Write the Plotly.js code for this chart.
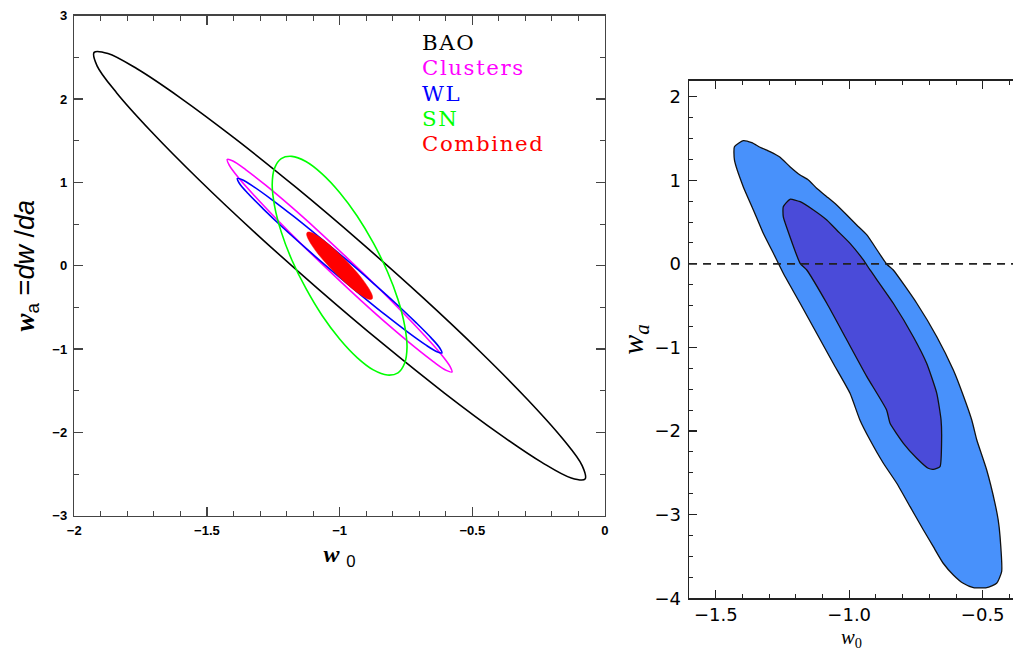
<!DOCTYPE html>
<html><head><meta charset="utf-8">
<script src="https://cdn.plot.ly/plotly-3.0.1.min.js"></script>
<style>html,body{margin:0;padding:0;background:#fff}#chart{width:1013px;height:652px}</style>
</head><body><div id="chart"></div>
<script>
// ---- Left panel: Fisher-forecast ellipses (w0, wa) ----
const baoW0 = [-0.075,-0.086,-0.160,-0.291,-0.470,-0.685,-0.922,-1.164,-1.395,-1.599,-1.762,-1.873,-1.925,-1.914,-1.840,-1.709,-1.530,-1.315,-1.078,-0.836,-0.605,-0.401,-0.238,-0.127,-0.075];
const baoWa = [-2.56,-2.399,-2.074,-1.608,-1.032,-0.386,0.286,0.939,1.528,2.012,2.36,2.547,2.56,2.399,2.074,1.608,1.032,0.386,-0.286,-0.939,-1.528,-2.012,-2.36,-2.547,-2.56];
const clustersW0 = [-0.5765,-0.584,-0.619,-0.681,-0.764,-0.863,-0.972,-1.082,-1.187,-1.280,-1.353,-1.402,-1.4235,-1.416,-1.381,-1.319,-1.236,-1.137,-1.028,-0.918,-0.813,-0.720,-0.647,-0.598,-0.5765];
const clustersWa = [-1.2745,-1.207,-1.056,-0.834,-0.555,-0.238,0.095,0.422,0.720,0.969,1.151,1.256,1.2745,1.207,1.056,0.834,0.555,0.238,-0.095,-0.422,-0.720,-0.969,-1.151,-1.256,-1.2745];
const wlW0 = [-0.6145,-0.622,-0.655,-0.712,-0.788,-0.879,-0.978,-1.079,-1.174,-1.257,-1.323,-1.367,-1.3855,-1.378,-1.345,-1.288,-1.212,-1.121,-1.022,-0.921,-0.826,-0.743,-0.677,-0.633,-0.6145];
const wlWa = [-1.0465,-0.990,-0.866,-0.683,-0.453,-0.193,0.081,0.349,0.594,0.797,0.947,1.032,1.0465,0.990,0.866,0.683,0.453,0.193,-0.081,-0.349,-0.594,-0.797,-0.947,-1.032,-1.0465];
const snW0 = [-0.746,-0.755,-0.780,-0.820,-0.873,-0.934,-1.0,-1.066,-1.127,-1.180,-1.220,-1.245,-1.254,-1.245,-1.220,-1.180,-1.127,-1.066,-1.0,-0.934,-0.873,-0.820,-0.780,-0.755,-0.746];
const snWa = [-0.976,-0.716,-0.406,-0.069,0.273,0.597,0.879,1.102,1.250,1.312,1.285,1.171,0.976,0.716,0.406,0.069,-0.273,-0.597,-0.879,-1.102,-1.250,-1.312,-1.285,-1.171,-0.976];
const combinedW0 = [-0.8775,-0.876,-0.883,-0.898,-0.919,-0.947,-0.978,-1.010,-1.042,-1.071,-1.095,-1.113,-1.1225,-1.124,-1.117,-1.102,-1.081,-1.053,-1.022,-0.990,-0.958,-0.929,-0.905,-0.887,-0.8775];
const combinedWa = [-0.3995,-0.368,-0.311,-0.233,-0.140,-0.036,0.069,0.170,0.260,0.332,0.381,0.404,0.3995,0.368,0.311,0.233,0.140,0.036,-0.069,-0.170,-0.260,-0.332,-0.381,-0.404,-0.3995];
const seriesNames = ["BAO", "Clusters", "WL", "SN", "Combined"];
const seriesColors = ["#000000", "#ff00ff", "#0000ff", "#00ff00", "#ff0000"];

// ---- Right panel: posterior contours (w0, wa) ----
const outerW0 = [-1.430,-1.430,-1.397,-1.365,-1.334,-1.297,-1.259,-1.222,-1.184,-1.153,-1.122,-1.084,-1.047,-1.009,-0.972,-0.934,-0.860,-0.835,-0.747,-0.672,-0.610,-0.585,-0.541,-0.522,-0.485,-0.454,-0.442,-0.435,-0.429,-0.448,-0.485,-0.535,-0.573,-0.610,-0.648,-0.685,-0.722,-0.772,-0.822,-0.872,-0.922,-0.960,-0.997,-1.060,-1.122,-1.184,-1.247,-1.284,-1.322,-1.359,-1.397,-1.430];
const outerWa = [1.243,1.402,1.474,1.450,1.395,1.342,1.275,1.163,1.063,1.004,0.904,0.804,0.705,0.585,0.465,0.346,-0.001,-0.073,-0.471,-0.871,-1.269,-1.469,-1.867,-2.107,-2.466,-2.864,-3.063,-3.263,-3.682,-3.821,-3.873,-3.873,-3.821,-3.721,-3.581,-3.383,-3.183,-2.904,-2.624,-2.385,-2.107,-1.867,-1.548,-1.189,-0.830,-0.471,-0.112,0.127,0.366,0.645,0.923,1.243];
const innerW0 = [-1.222,-1.184,-1.134,-1.084,-1.047,-0.997,-0.947,-0.922,-0.835,-0.760,-0.710,-0.672,-0.656,-0.654,-0.660,-0.685,-0.704,-0.747,-0.797,-0.847,-0.860,-0.934,-1.009,-1.084,-1.159,-1.184,-1.222,-1.247,-1.247,-1.222];
const innerWa = [0.773,0.744,0.645,0.525,0.405,0.246,0.047,-0.073,-0.471,-0.871,-1.189,-1.548,-1.867,-2.107,-2.426,-2.457,-2.445,-2.325,-2.146,-1.907,-1.748,-1.349,-0.910,-0.471,-0.073,0.007,0.325,0.565,0.684,0.773];
const referenceWa = 0;

const ellX = [baoW0, clustersW0, wlW0, snW0, combinedW0];
const ellY = [baoWa, clustersWa, wlWa, snWa, combinedWa];

const traces = [];
for (let i = 0; i < 5; i++) {
  const isFilled = seriesNames[i] === "Combined";
  traces.push({
    type: "scatter", mode: "lines", name: seriesNames[i],
    x: ellX[i], y: ellY[i], xaxis: "x", yaxis: "y",
    line: {color: seriesColors[i], width: isFilled ? 0.5 : 1.6, shape: "spline", smoothing: 1},
    fill: isFilled ? "toself" : "none", fillcolor: seriesColors[i],
    hoverinfo: "skip", showlegend: false
  });
}
traces.push({
  type: "scatter", mode: "lines", x: outerW0, y: outerWa, xaxis: "x2", yaxis: "y2",
  fill: "toself", fillcolor: "#4891fb", line: {color: "#111", width: 1.3, shape: "spline", smoothing: 0.5},
  hoverinfo: "skip", showlegend: false
});
traces.push({
  type: "scatter", mode: "lines", x: innerW0, y: innerWa, xaxis: "x2", yaxis: "y2",
  fill: "toself", fillcolor: "#4a4bd9", line: {color: "#111", width: 1.3, shape: "spline", smoothing: 0.5},
  hoverinfo: "skip", showlegend: false
});

const leftTickFont = {family: "Liberation Sans, Arial, sans-serif", size: 13, color: "#000", weight: "bold"};
const rightTickFont = {family: "DejaVu Sans, sans-serif", size: 18, color: "#000"};

const annotations = seriesNames.map((name, i) => ({
  xref: "paper", yref: "paper", x: 0.4153, y: 0.9345 - i * 0.03865,
  xanchor: "left", yanchor: "middle", showarrow: false, borderpad: 0,
  text: '<span style="letter-spacing:1.6px">' + name + '</span>',
  font: {family: "DejaVu Serif, serif", size: 21.3, color: seriesColors[i]}
}));
// x-axis title of the right panel (placed as text just under its tick labels)
annotations.push({
  xref: "x2 domain", yref: "paper", x: 0.5, y: 1 - 624.5 / 652,
  xanchor: "center", yanchor: "top", showarrow: false, borderpad: 0,
  text: "<i>w</i><sub>0</sub>",
  font: {family: "Liberation Serif, serif", size: 20.6, color: "#000"}
});

const layout = {
  width: 1013, height: 652,
  margin: {l: 0, r: 0, t: 0, b: 0},
  paper_bgcolor: "#fff", plot_bgcolor: "#fff",
  showlegend: false,
  xaxis: {
    domain: [0.0733, 0.5972], range: [-2, 0], anchor: "y",
    dtick: 0.5, ticks: "inside", ticklen: 9, tickwidth: 1.2, tickcolor: "#444",
    minor: {dtick: 0.1, ticks: "inside", ticklen: 5, tickwidth: 1, tickcolor: "#444"},
    showline: true, linecolor: "#444", linewidth: 1.5, mirror: "ticks",
    showgrid: false, zeroline: false, tickfont: leftTickFont, ticklabelstandoff: 2,
    title: {text: '<span style="font-family:Liberation Serif"><b><i>w</i></b></span> <sub>0</sub>',
            font: {family: "Liberation Sans, sans-serif", size: 24, color: "#000"}, standoff: 8}
  },
  yaxis: {
    domain: [0.2090, 0.9759], range: [-3, 3], anchor: "x",
    dtick: 1, ticks: "inside", ticklen: 9, tickwidth: 1.2, tickcolor: "#444",
    minor: {dtick: 0.5, ticks: "inside", ticklen: 5, tickwidth: 1, tickcolor: "#444"},
    showline: true, linecolor: "#444", linewidth: 1.5, mirror: "ticks",
    showgrid: false, zeroline: false, tickfont: leftTickFont, ticklabelstandoff: 3,
    title: {text: '<span style="font-family:Liberation Serif"><b><i>w</i></b></span><sub>a</sub> =<i>dw</i> /<i>da</i>',
            font: {family: "Liberation Sans, sans-serif", size: 27, color: "#000"}, standoff: 10}
  },
  xaxis2: {
    domain: [0.6802, 1.0], range: [-1.6, -0.3865], anchor: "y2",
    dtick: 0.5, tick0: -1.5, tickformat: ".1f", ticks: "inside", ticklen: 8, tickwidth: 1.2, tickcolor: "#222",
    minor: {dtick: 0.1, ticks: "inside", ticklen: 4, tickwidth: 1, tickcolor: "#222"},
    showline: true, linecolor: "#222", linewidth: 1.5, mirror: "ticks",
    showgrid: false, zeroline: false, tickfont: rightTickFont, ticklabelstandoff: 0
  },
  yaxis2: {
    domain: [0.0824, 0.8762], range: [-4, 2.191], anchor: "x2",
    dtick: 1, ticks: "inside", ticklen: 8, tickwidth: 1.2, tickcolor: "#222",
    minor: {dtick: 0.25, ticks: "inside", ticklen: 4, tickwidth: 1, tickcolor: "#222"},
    showline: true, linecolor: "#222", linewidth: 1.5, mirror: false,
    showgrid: false, zeroline: false, tickfont: rightTickFont, ticklabelstandoff: 3,
    title: {text: "<i>w</i><sub><i>a</i></sub>", font: {family: "Liberation Serif, serif", size: 30, color: "#000"}, standoff: 2}
  },
  shapes: [{
    type: "line", xref: "x2 domain", x0: 0, x1: 1, yref: "y2", y0: referenceWa, y1: referenceWa,
    line: {color: "#222", width: 1.6, dash: "8px,6px"}, layer: "above"
  }],
  annotations: annotations
};

Plotly.newPlot("chart", traces, layout, {displayModeBar: false, staticPlot: true});
</script>
</body></html>
